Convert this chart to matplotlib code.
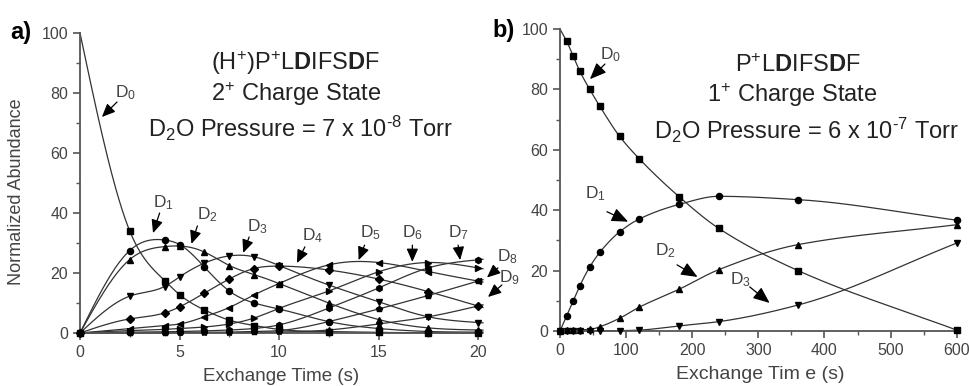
import numpy as np
import matplotlib
matplotlib.use("Agg")
import matplotlib.pyplot as plt
from matplotlib.ticker import MultipleLocator

plt.rcParams['font.family'] = ['Liberation Sans', 'DejaVu Sans']
plt.rcParams['mathtext.fontset'] = 'custom'
plt.rcParams['mathtext.rm'] = 'Liberation Sans'
plt.rcParams['mathtext.it'] = 'Liberation Sans'
plt.rcParams['mathtext.bf'] = 'Liberation Sans:bold'

# ---------------- Panel a data ----------------
time_a = [0, 2.5, 4.25, 5, 6.25, 7.5, 8.75, 10, 12.5, 15, 17.5, 20]
a_D0 = [100, 34, 17.5, 12.8, 7.7, 4.3, 2.5, 1.2, 0.5, 0.2, 0.1, 0]
a_D1 = [0, 27.5, 31, 29.5, 22, 14, 10, 8, 3.8, 1.5, 0.5, 0.3]
a_D2 = [0, 24.5, 28.8, 29, 27, 22.5, 19.5, 16.5, 10, 4.5, 1.7, 1]
a_D3 = [0, 12.3, 15.5, 18.7, 23.3, 25.7, 25.4, 22.5, 16, 10.4, 5.4, 3.5]
a_D4 = [0, 4.7, 6.7, 8.7, 13.3, 18, 21.5, 22.3, 21, 18, 13.8, 9]
a_D5 = [0, 1.5, 2.5, 3, 5.4, 8.5, 12.7, 16.5, 22.7, 23.5, 20.5, 17.3]
a_D6 = [0, 0.8, 1.2, 1.5, 2, 3, 5, 8.2, 14, 20.4, 23.5, 21.7]
a_D7 = [0, 0.3, 0.4, 0.5, 0.7, 1, 1.5, 2.7, 8.3, 15, 21.7, 24.4]
a_D8 = [0, 0.1, 0.1, 0.2, 0.2, 0.3, 0.5, 0.8, 3.8, 8, 12.5, 17.3]
a_D9 = [0, 0, 0, 0.1, 0.1, 0.1, 0.2, 0.3, 1, 3, 5.4, 9]
series_a = [a_D0, a_D1, a_D2, a_D3, a_D4, a_D5, a_D6, a_D7, a_D8, a_D9]
markers_a = ['s', 'o', '^', 'v', 'D', '<', '>', 'h', 'p', '*']

# ---------------- Panel b data ----------------
time_b = [0, 10, 20, 30, 45, 60, 90, 120, 180, 240, 360, 600]
b_D0 = [100, 96, 91, 86, 80, 74.5, 64.5, 57, 44.5, 34, 20, 0.3]
b_D1 = [0, 5, 10, 15, 21.2, 26, 32.8, 37.1, 41.9, 44.6, 43.5, 36.7]
b_D2 = [0, 0.2, 0.3, 0.4, 0.5, 1.4, 4.2, 7.9, 13.8, 20.3, 28.6, 35.2]
b_D3 = [0, 0, 0, 0, 0, 0, 0.1, 0.3, 1.7, 3.1, 8.6, 29.1]
series_b = [b_D0, b_D1, b_D2, b_D3]
markers_b = ['s', 'o', '^', 'v']

labels_a = ['$\\mathregular{D_{%d}}$' % i for i in range(10)]
labels_b = ['$\\mathregular{D_{%d}}$' % i for i in range(4)]


def natural_spline(x, y, xs):
    x = np.asarray(x, float); y = np.asarray(y, float)
    n = len(x); h = np.diff(x)
    A = np.zeros((n, n)); r = np.zeros(n)
    A[0, 0] = 1; A[-1, -1] = 1
    for i in range(1, n - 1):
        A[i, i - 1] = h[i - 1]; A[i, i] = 2 * (h[i - 1] + h[i]); A[i, i + 1] = h[i]
        r[i] = 3 * ((y[i + 1] - y[i]) / h[i] - (y[i] - y[i - 1]) / h[i - 1])
    c = np.linalg.solve(A, r)
    b = (y[1:] - y[:-1]) / h - h * (2 * c[:-1] + c[1:]) / 3
    d = (c[1:] - c[:-1]) / (3 * h)
    idx = np.clip(np.searchsorted(x, xs) - 1, 0, n - 2)
    dx = xs - x[idx]
    return y[idx] + b[idx] * dx + c[idx] * dx ** 2 + d[idx] * dx ** 3


def pchip(x, y, xs):
    x = np.asarray(x, float); y = np.asarray(y, float)
    h = np.diff(x); delta = np.diff(y) / h
    n = len(x); m = np.zeros(n)
    for k in range(1, n - 1):
        if delta[k - 1] * delta[k] > 0:
            w1 = 2 * h[k] + h[k - 1]; w2 = h[k] + 2 * h[k - 1]
            m[k] = (w1 + w2) / (w1 / delta[k - 1] + w2 / delta[k])
    m[0] = delta[0]; m[-1] = delta[-1]
    idx = np.clip(np.searchsorted(x, xs) - 1, 0, n - 2)
    t = (xs - x[idx]) / h[idx]
    h00 = 2 * t ** 3 - 3 * t ** 2 + 1; h10 = t ** 3 - 2 * t ** 2 + t
    h01 = -2 * t ** 3 + 3 * t ** 2; h11 = t ** 3 - t ** 2
    return h00 * y[idx] + h10 * h[idx] * m[idx] + h01 * y[idx + 1] + h11 * h[idx] * m[idx + 1]


W, H = 969, 386
fig = plt.figure(figsize=(W / 100, H / 100), dpi=100)
ax_a = fig.add_axes([80 / W, 53 / H, 402 / W, 300 / H])
ax_b = fig.add_axes([560 / W, 55 / H, 400 / W, 302 / H])

gray = '#555555'
linec = '#333333'
textc = '#444444'


def style(ax):
    for s in ['top', 'right']:
        ax.spines[s].set_visible(False)
    for s in ['left', 'bottom']:
        ax.spines[s].set_color(gray)
        ax.spines[s].set_linewidth(1.3)
    ax.tick_params(which='major', direction='out', length=5, width=1.2, color=gray,
                   labelcolor=textc, labelsize=11.5)
    ax.tick_params(which='minor', direction='out', length=3, width=1.0, color=gray)
    ax.yaxis.set_major_locator(MultipleLocator(20))
    ax.yaxis.set_minor_locator(MultipleLocator(10))


def add_arrows(ax, labels, tails, tips, label_pos, hl, hw):
    props = dict(arrowstyle='-|>,head_length=%g,head_width=%g' % (hl, hw), color='black',
                 lw=0.9, shrinkA=0, shrinkB=0)
    for lab, tl, tp, lp in zip(labels, tails, tips, label_pos):
        ax.annotate('', xy=tp, xytext=tl, arrowprops=props, annotation_clip=False)
        ax.text(lp[0], lp[1], lab, fontsize=12.5, color=textc, ha='center', va='center',
                clip_on=False)


# ---- panel a ----
xs_a = np.linspace(0, 20.25, 500)
for k, (vals, mk) in enumerate(zip(series_a, markers_a)):
    ys = np.clip(natural_spline(time_a, vals, xs_a), 0, None)
    ax_a.plot(xs_a, ys, color=linec, lw=0.9, clip_on=False, zorder=2)
    start = 1 if k == 0 else 0
    ax_a.plot(time_a[start:], vals[start:], linestyle='none', marker=mk, ms=4.4,
              color='black', clip_on=False, zorder=3)
ax_a.set_xlim(0, 20.2)
ax_a.set_ylim(0, 100)
style(ax_a)
ax_a.xaxis.set_major_locator(MultipleLocator(5))
ax_a.xaxis.set_minor_locator(MultipleLocator(2.5))
ax_a.set_xlabel('Exchange Time (s)', fontsize=13.5, color=textc, labelpad=6)
ax_a.set_ylabel('Normalized Abundance', fontsize=13, color=textc)
ax_a.yaxis.set_label_coords(-55 / 402, 0.47)

tails_a = [(1.86, 77), (4.0, 40), (5.9, 35.7), (8.5, 32), (11.3, 28.7),
           (14.3, 29.3), (16.7, 29.3), (19.0, 29.3), (21.0, 21.7), (21.2, 16)]
tips_a = [(1.1, 72), (3.67, 33.3), (5.6, 29.7), (8.2, 26.7), (10.9, 23.3),
          (14.0, 24.3), (16.7, 23.7), (19.1, 24.3), (20.45, 18.5), (20.5, 12)]
lpos_a = [(2.3, 80), (4.2, 43.5), (6.4, 39.5), (8.9, 35.5), (11.7, 32.5),
          (14.6, 33.5), (16.7, 33.5), (19.0, 33.5), (21.5, 25.5), (21.6, 18.5)]
add_arrows(ax_a, labels_a, tails_a, tips_a, lpos_a, 0.8, 0.35)

tk = dict(ha='center', va='center', fontsize=17, color='#222222')
fig.text(296 / W, 1 - 63 / H,
         r'(H$^{\mathregular{+}}$)P$^{\mathregular{+}}$L$\mathbf{D}$IFS$\mathbf{D}$F', **tk)
fig.text(296 / W, 1 - 94 / H, r'2$^{\mathregular{+}}$ Charge State', **tk)
fig.text(300 / W, 1 - 128 / H,
         r'D$_{\mathregular{2}}$O Pressure = 7 x 10$^{\text{-8}}$ Torr', **tk)

# ---- panel b ----
xs_b = np.linspace(0, 600, 600)
for k, (vals, mk) in enumerate(zip(series_b, markers_b)):
    ys = np.clip(pchip(time_b, vals, xs_b), 0, None)
    ax_b.plot(xs_b, ys, color=linec, lw=0.9, clip_on=False, zorder=2)
    start = 1 if k == 0 else 0
    ax_b.plot(time_b[start:], vals[start:], linestyle='none', marker=mk, ms=4.4,
              color='black', clip_on=False, zorder=3)
ax_b.set_xlim(0, 605)
ax_b.set_ylim(0, 100)
style(ax_b)
ax_b.xaxis.set_major_locator(MultipleLocator(100))
ax_b.xaxis.set_minor_locator(MultipleLocator(50))
ax_b.set_xlabel('Exchange Tim e (s)', fontsize=14, color=textc, labelpad=6)

tails_b = [(68, 88.4), (71, 39.5), (177, 21.9), (287, 14.6)]
tips_b = [(45.3, 83.4), (103, 36.2), (208, 17.9), (317, 9.3)]
lpos_b = [(77, 91.5), (54, 45.5), (160, 26.5), (273, 17)]
add_arrows(ax_b, labels_b, tails_b, tips_b, lpos_b, 1.0, 0.42)

fig.text(798 / W, 1 - 66 / H,
         r'P$^{\mathregular{+}}$L$\mathbf{D}$IFS$\mathbf{D}$F', **tk)
fig.text(792 / W, 1 - 95 / H, r'1$^{\mathregular{+}}$ Charge State', **tk)
fig.text(806 / W, 1 - 130 / H,
         r'D$_{\mathregular{2}}$O Pressure = 6 x 10$^{\text{-7}}$ Torr', **tk)

# panel letters
fig.text(10 / W, 1 - 33 / H, 'a)', fontsize=17, fontweight='bold', ha='left', va='center')
fig.text(492 / W, 1 - 30 / H, 'b)', fontsize=17, fontweight='bold', ha='left', va='center')

fig.savefig('out.png', dpi=100)
